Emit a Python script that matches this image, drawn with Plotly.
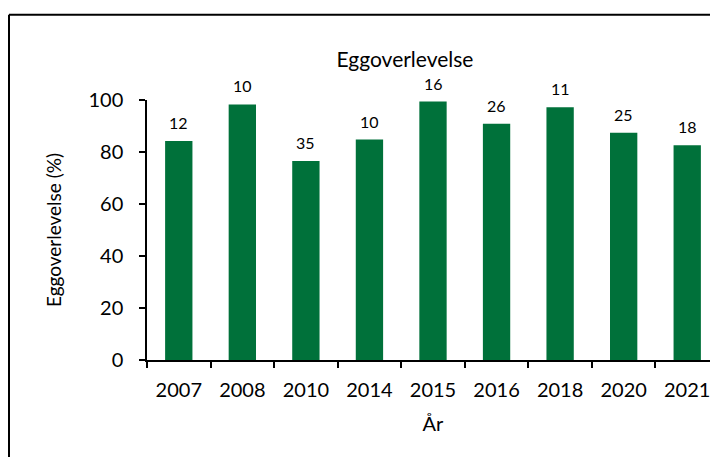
import plotly.graph_objects as go

years = ["2007", "2008", "2010", "2014", "2015", "2016", "2018", "2020", "2021"]
survival = [84.2, 98.3, 76.5, 84.8, 99.4, 90.9, 97.2, 87.4, 82.6]
counts = [12, 10, 35, 10, 16, 26, 11, 25, 18]
y_ticks = [0, 20, 40, 60, 80, 100]

FONT = "Lato"
GREEN = "#00713A"

fig = go.Figure()
fig.add_trace(go.Bar(x=years, y=survival, marker=dict(color=GREEN, line=dict(width=0)),
                     hoverinfo="x+y"))

# category axis: annotations positioned by category index
for i, (v, n) in enumerate(zip(survival, counts)):
    fig.add_annotation(x=i, y=v, text=str(n), showarrow=False, yanchor="bottom",
                       yshift=7, font=dict(family=FONT, size=16, color="black"))

# page renders the figure with an 8px offset; compensate
OFF = 8
W, H = 718, 457
L, R, T, B = 147 - OFF, OFF - 1, 100 - OFF, 97 + OFF
pw, ph = W - L - R, H - T - B
fx = (9 - OFF - L) / pw
fy = (H - B - (14.7 - OFF)) / ph
fig.add_shape(type="line", xref="paper", yref="paper", x0=fx, x1=fx, y0=-1, y1=fy,
              line=dict(color="black", width=2))
fig.add_shape(type="line", xref="paper", yref="paper", x0=fx, x1=1.5, y0=fy, y1=fy,
              line=dict(color="black", width=2))

fig.update_layout(
    width=W, height=H,
    margin=dict(l=L, r=R, t=T, b=B),
    paper_bgcolor="white", plot_bgcolor="white",
    bargap=0.57,
    showlegend=False,
    font=dict(family=FONT, color="black"),
    title=dict(text="Eggoverlevelse", x=(405 - OFF) / W, xref="container", xanchor="center",
               y=1 - (60 - OFF) / H, yref="container", yanchor="middle",
               font=dict(family=FONT, size=21, color="black")),
    xaxis=dict(
        type="category", showline=True, linecolor="black", linewidth=1.5,
        range=[-0.5, len(years) - 0.5],
        ticks="outside", ticklen=6, tickcolor="black", tickwidth=1.5,
        tickson="boundaries", tickfont=dict(family=FONT, size=20, color="black"),
        ticklabelstandoff=11, tickangle=0,
        title=dict(text="År", font=dict(family=FONT, size=20, color="black"), standoff=17),
        showgrid=False, zeroline=False,
    ),
    yaxis=dict(
        range=[0, 100], tickvals=y_ticks, showline=True, linecolor="black", linewidth=1.5,
        ticks="outside", ticklen=6, tickcolor="black", tickwidth=1.5,
        tickfont=dict(family=FONT, size=20, color="black"), ticklabelstandoff=12,
        title=dict(text="Eggoverlevelse (%)", font=dict(family=FONT, size=19, color="black"),
                   standoff=22),
        showgrid=False, zeroline=False,
    ),
)

fig.write_html("out.html")
